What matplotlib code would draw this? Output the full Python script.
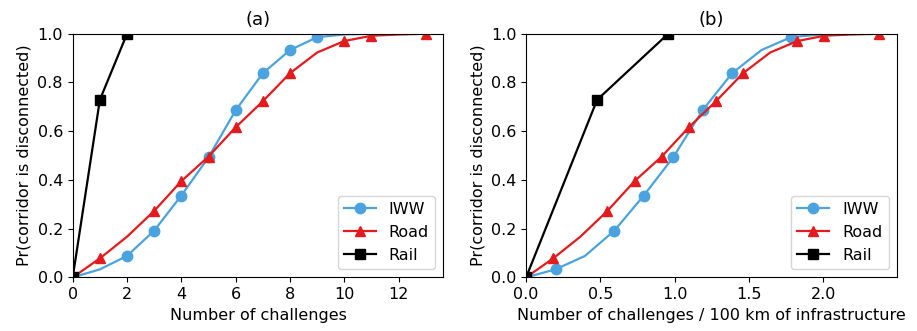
import matplotlib
matplotlib.use("Agg")
import matplotlib.pyplot as plt
import numpy as np

# Number of challenges
n_iww = [0, 1, 2, 3, 4, 5, 6, 7, 8, 9, 10, 11, 12]
p_iww = [0.0, 0.033, 0.088, 0.192, 0.336, 0.493, 0.686, 0.838, 0.933, 0.986, 0.997, 1.0, 1.0]
n_road = [0, 1, 2, 3, 4, 5, 6, 7, 8, 9, 10, 11, 12, 13]
p_road = [0.0, 0.078, 0.167, 0.273, 0.395, 0.496, 0.616, 0.723, 0.838, 0.923, 0.970, 0.992, 0.997, 1.0]
n_rail = [0, 1, 2]
p_rail = [0.0, 0.729, 1.0]

# challenges per 100 km of infrastructure (per-challenge step for each network)
step_iww = 0.198
step_road = 0.1825
step_rail = 0.478

colors = {"IWW": "#4aa3df", "Road": "#e41a1c", "Rail": "#000000"}
markers = {"IWW": "o", "Road": "^", "Rail": "s"}
# which points carry a marker, per panel
mark_a = {"IWW": [0, 2, 3, 4, 5, 6, 7, 8, 9], "Road": [0, 1, 3, 4, 5, 6, 7, 8, 10, 11, 13], "Rail": [0, 1, 2]}
mark_b = {"IWW": [0, 1, 3, 4, 5, 6, 7, 9], "Road": [0, 1, 3, 4, 5, 6, 7, 8, 10, 11, 13], "Rail": [0, 1, 2]}

FS = 11.5
plt.rcParams["font.size"] = FS

fig, axes = plt.subplots(1, 2, figsize=(9.17, 3.31), dpi=100)
fig.subplots_adjust(left=0.0793, right=0.978, bottom=0.162, top=0.898, wspace=0.223)

series = [("IWW", n_iww, p_iww, step_iww),
          ("Road", n_road, p_road, step_road),
          ("Rail", n_rail, p_rail, step_rail)]

for k, ax in enumerate(axes):
    marks = mark_a if k == 0 else mark_b
    for name, n, p, step in series:
        x = np.array(n, dtype=float)
        if k == 1:
            x = x * step
        ax.plot(x, p, color=colors[name], marker=markers[name], markersize=7.5,
                linewidth=1.6, markevery=marks[name], label=name)
    ax.set_ylim(0, 1)
    ax.set_xlim(left=0)
    ax.set_ylabel("Pr(corridor is disconnected)", fontsize=FS)
    ax.tick_params(labelsize=FS)
    ax.legend(loc="lower right", fontsize=FS)

axes[0].set_title("(a)", fontsize=13)
axes[1].set_title("(b)", fontsize=13)
axes[0].set_xlabel("Number of challenges", fontsize=FS)
axes[1].set_xlabel("Number of challenges / 100 km of infrastructure", fontsize=FS)
axes[0].set_xticks([0, 2, 4, 6, 8, 10, 12])
axes[1].set_xticks([0.0, 0.5, 1.0, 1.5, 2.0])

fig.savefig("out.png", dpi=100)
